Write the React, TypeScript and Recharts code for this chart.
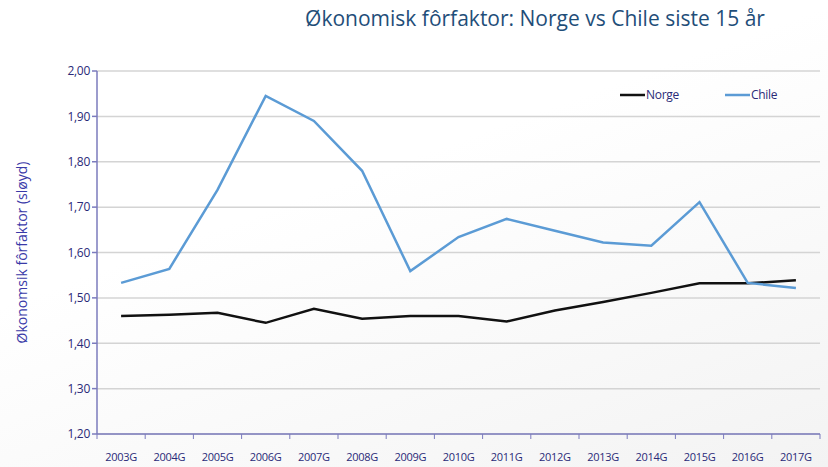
import React from "react";
import { LineChart, Line, XAxis, YAxis, CartesianGrid } from "recharts";

const YEARS = ["2003G", "2004G", "2005G", "2006G", "2007G", "2008G", "2009G", "2010G", "2011G", "2012G", "2013G", "2014G", "2015G", "2016G", "2017G"];
const NORGE = [1.46, 1.463, 1.467, 1.445, 1.476, 1.454, 1.46, 1.46, 1.448, 1.472, 1.491, 1.511, 1.532, 1.532, 1.539];
const CHILE = [1.533, 1.564, 1.738, 1.945, 1.89, 1.78, 1.559, 1.634, 1.674, 1.648, 1.622, 1.615, 1.711, 1.533, 1.522];
const Y_TICKS = [1.2, 1.3, 1.4, 1.5, 1.6, 1.7, 1.8, 1.9, 2.0];

const data = YEARS.map((year, i) => ({ year, Norge: NORGE[i], Chile: CHILE[i] }));

const W = 828;
const H = 467;
const PLOT_LEFT = 97;
const PLOT_RIGHT = 820;
const BAND = (PLOT_RIGHT - PLOT_LEFT) / YEARS.length;
const AXIS = "#7b7bbd";
const NAVY = "#2a2a78";
const FONT = "'Open Sans', sans-serif";

function XTick({ x, payload, index }: any) {
  const last = index === YEARS.length - 1;
  return (
    <g>
      <line x1={x - BAND / 2} x2={x - BAND / 2} y1={434} y2={439} stroke={AXIS} />
      {last && <line x1={x + BAND / 2} x2={x + BAND / 2} y1={434} y2={439} stroke={AXIS} />}
      <text x={x} y={461} textAnchor="middle" fontSize={11} fill={NAVY} fontFamily={FONT} letterSpacing={-0.3}>
        {payload.value}
      </text>
    </g>
  );
}

function LegendBox() {
  const items = [
    { name: "Norge", color: "#111111", x: 620 },
    { name: "Chile", color: "#5b9bd5", x: 725 },
  ];
  return (
    <svg width={W} height={20} style={{ position: "absolute", left: 0, top: 85 }}>
      {items.map((it) => (
        <g key={it.name}>
          <line x1={it.x} x2={it.x + 25} y1={10} y2={10} stroke={it.color} strokeWidth={2.5} />
          <text x={it.x + 26} y={14} fontSize={12} fill={NAVY} fontFamily={FONT} letterSpacing={-0.3}>{it.name}</text>
        </g>
      ))}
    </svg>
  );
}

export default function App() {
  return (
    <div
      style={{
        position: "absolute",
        left: 0,
        top: 0,
        width: W,
        height: H,
        background: "linear-gradient(160deg, #ffffff 40%, #f3f3f3 100%)",
      }}
    >
      <div
        style={{
          position: "absolute",
          left: 0,
          top: 4,
          width: W,
          textAlign: "center",
          paddingLeft: 242,
          boxSizing: "border-box",
          fontFamily: FONT,
          fontSize: 21,
          color: "#1f4e79",
        }}
      >
        Økonomisk fôrfaktor: Norge vs Chile siste 15 år
      </div>
      <LineChart width={W} height={H} data={data} margin={{ top: 71, right: 8, bottom: 3, left: 10 }} style={{ position: "absolute", left: 0, top: 0 }}>
        <CartesianGrid horizontal vertical={false} stroke="#d4d4d4" strokeWidth={1.5} />
        <XAxis
          dataKey="year"
          scale="band"
          height={30}
          stroke={AXIS}
          strokeWidth={1.5}
          tickLine={false}
          interval={0}
          tick={<XTick />}
        />
        <YAxis
          width={87}
          domain={[1.2, 2.0]}
          ticks={Y_TICKS}
          stroke={AXIS}
          strokeWidth={1.5}
          tickSize={5}
          tick={{ fill: NAVY, fontSize: 12, fontFamily: FONT, letterSpacing: -0.3 }}
          tickFormatter={(v: number) => v.toFixed(2).replace(".", ",")}
          label={{
            value: "Økonomsik fôrfaktor (sløyd)",
            angle: -90,
            position: "insideLeft",
            offset: 12,
            style: { textAnchor: "middle", fill: "#3a3aa8", fontSize: 14, fontFamily: FONT },
          }}
        />
        <Line dataKey="Norge" stroke="#111111" strokeWidth={2.5} dot={false} isAnimationActive={false} />
        <Line dataKey="Chile" stroke="#5b9bd5" strokeWidth={2.5} dot={false} isAnimationActive={false} />
      </LineChart>
      <LegendBox />
    </div>
  );
}
